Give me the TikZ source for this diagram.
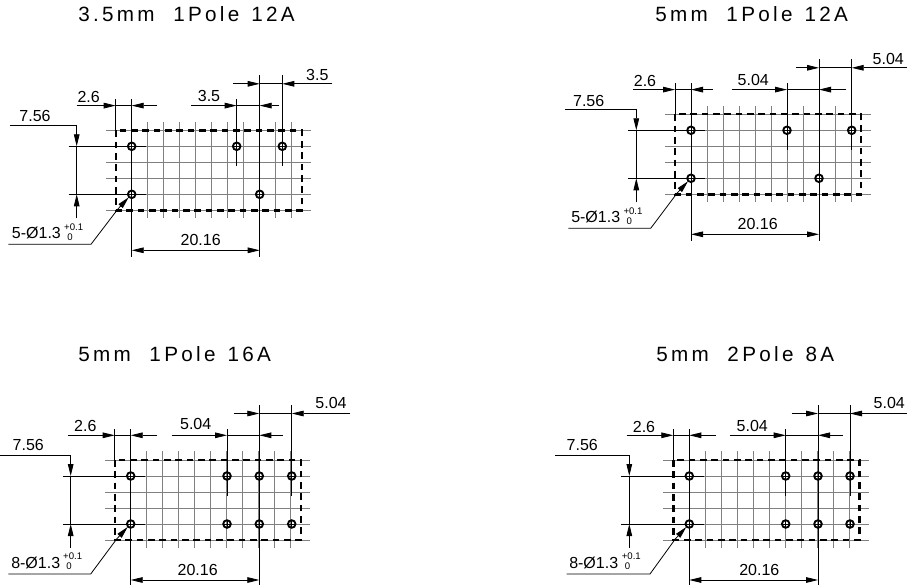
\documentclass[tikz,border=0pt]{standalone}
\usepackage{fontspec}
\setmainfont{Liberation Sans}
\usetikzlibrary{arrows.meta}
\newfontfamily\titlefont[LetterSpace=16]{Liberation Sans}
\definecolor{gridgray}{gray}{0.5}
\newcommand{\gapa}{\hspace{14pt}}
\newcommand{\gapb}{\hspace{9pt}}
\tikzset{
  dimline/.style={black,line width=0.6pt},
  gridline/.style={gridgray,line width=0.6pt},
  outline/.style={black,line width=1.8pt,dash pattern=on 5pt off 3.5pt},
  hole/.style={black,line width=1.4pt},
  headed/.style={dimline,-{Triangle[length=9pt,width=4.2pt]}},
  bothheaded/.style={dimline,{Triangle[length=9pt,width=4.2pt]}-{Triangle[length=9pt,width=4.2pt]}},
  dimtext/.style={font=\fontsize{12}{12}\selectfont,inner sep=0pt,anchor=center},
  smalltext/.style={font=\fontsize{7.2}{8}\selectfont,inner sep=0pt},
  titletext/.style={font=\titlefont\fontsize{15.5}{16}\selectfont,inner sep=0pt,anchor=west},
}
\newcommand{\holeat}[2]{%
  \draw[dimline] (#1-4,#2) -- (#1+4,#2) (#1,#2-4) -- (#1,#2+4);
  \draw[hole] (#1,#2) circle[radius=3.8];
}
\begin{document}
\begin{tikzpicture}[x=0.75pt,y=-0.75pt]
\useasboundingbox (0,0) rectangle (907,585);
\foreach \n/\ox/\oy/\cm/\cb/\cr/\rowtwo/\ttl/\tx/\ty/\hdr/\ra/\rb/\rtx/\rty/\ma/\mb/\mtx/\mty/\la/\lb/\ltx/\lty/\va/\vb/\vtx/\vty/\na/\nb/\ntx/\ctx/\num in {
 1/131.7/146.3/105/128/150.6/0/{3.5mm\gapa 1Pole\gapb 12A}/78/14/3.5/101.6/200.6/185.6/-71.3/59.6/147.6/77.3/-50/-55/25.6/-43/-49/-121.7/-55/-96.7/-30.3/-123.4/-40.7/-120/69/5,
 2/691/130.3/96/128/160.7/0/{5mm\gapa 1Pole\gapb 12A}/655/14/5.04/105/216/197.3/-71/40.7/155/62.3/-50.3/-57.7/22.3/-46/-49.3/-126/-54.7/-102.3/-29.6/-122.7/-40.3/-120/66.7/5,
 3/130.7/476/96.3/128.6/161/1/{5mm\gapa 1Pole\gapb 16A}/78/354/5.04/103.3/219.3/200.3/-73.3/41/152/65/-51.7/-62.4/26.3/-45.4/-50/-130.7/-60/-102.4/-31/-122.4/-40/-119.7/67/8,
 4/689.3/476/96.4/128.7/160.7/1/{5mm\gapa 2Pole\gapb 8A}/656/354/5.04/102.4/217.7/200/-73.3/41/153.4/63/-50/-62.6/26.4/-45.3/-49.3/-134.3/-60/-107/-31/-122.6/-39.3/-120.3/70/8%
}{
\begin{scope}[shift={(\ox,\oy)}]
  % grid
  \foreach \k in {0,...,10} \draw[gridline] (16*\k,-24.6) -- (16*\k,72);
  \foreach \k in {-1,...,4} \draw[gridline] (-26,16*\k) -- (179.5,16*\k);
  % black extension lines
  \draw[dimline] (\vb-8,0) -- (14.3,0);
  \draw[dimline] (\vb-8,48) -- (14.3,48);
  \draw[dimline] (0,-47) -- (0,110.7);
  \draw[dimline] (-16,-47) -- (-16,-16);
  \draw[dimline] (\cb,-71) -- (\cb,110.7);
  \draw[dimline] (\cr,-71) -- (\cr,20);
  \draw[dimline] (\cm,-47) -- (\cm,20);
  % outline
  \draw[outline] (-16,-16) rectangle (170,64);
  % holes
  \holeat{0}{0}\holeat{0}{48}
  \holeat{\cm}{0}\holeat{\cb}{48}\holeat{\cr}{0}
  \ifnum\rowtwo=1
    \holeat{\cb}{0}\holeat{\cm}{48}\holeat{\cr}{48}
  \fi
  % right top dimension
  \draw[headed] (\ra,-62.5) -- (\cb,-62.5);
  \draw[headed] (\rb,-62.5) -- (\cr,-62.5);
  \draw[dimline] (\cb,-62.5) -- (\cr,-62.5);
  \node[dimtext] (rt\n) at (\rtx,\rty) {\hdr};
  % middle dimension
  \draw[headed] (\ma,-40.7) -- (\cm,-40.7);
  \draw[headed] (\mb,-40.7) -- (\cb,-40.7);
  \draw[dimline] (\cm,-40.7) -- (\cb,-40.7);
  \node[dimtext] (mt\n) at (\mtx,\mty) {\hdr};
  % 2.6
  \draw[headed] (\la,-40.7) -- (-16,-40.7);
  \draw[headed] (\lb,-40.7) -- (0,-40.7);
  \draw[dimline] (-16,-40.7) -- (0,-40.7);
  \node[dimtext] (lt\n) at (\ltx,\lty) {2.6};
  % 7.56
  \draw[dimline] (\va,-21) -- (\vb,-21);
  \draw[headed] (\vb,-21) -- (\vb,0);
  \draw[headed] (\vb,72) -- (\vb,48);
  \draw[dimline] (\vb,0) -- (\vb,48);
  \node[dimtext] (vt\n) at (\vtx,\vty) {7.56};
  % note
  \draw[dimline] (\na,98) -- (\nb,98) -- (-14,63);
  \draw[headed] (-14.5,63.5) -- (-3,51);
  \node[dimtext,anchor=base west] (nt\n) at (\ntx,92) {\num-Ø1.3};
  \node[smalltext] (up\n) at (-58,80.5) {+0.1};
  \node[smalltext] (lo\n) at (-61.7,90.5) {0};
  % 20.16
  \draw[bothheaded] (0,104) -- (\cb,104);
  \node[dimtext] (ct\n) at (\ctx,93.7) {20.16};
\end{scope}
\node[titletext] (title\n) at (\tx,\ty) {\ttl};
}
\end{tikzpicture}
\end{document}
